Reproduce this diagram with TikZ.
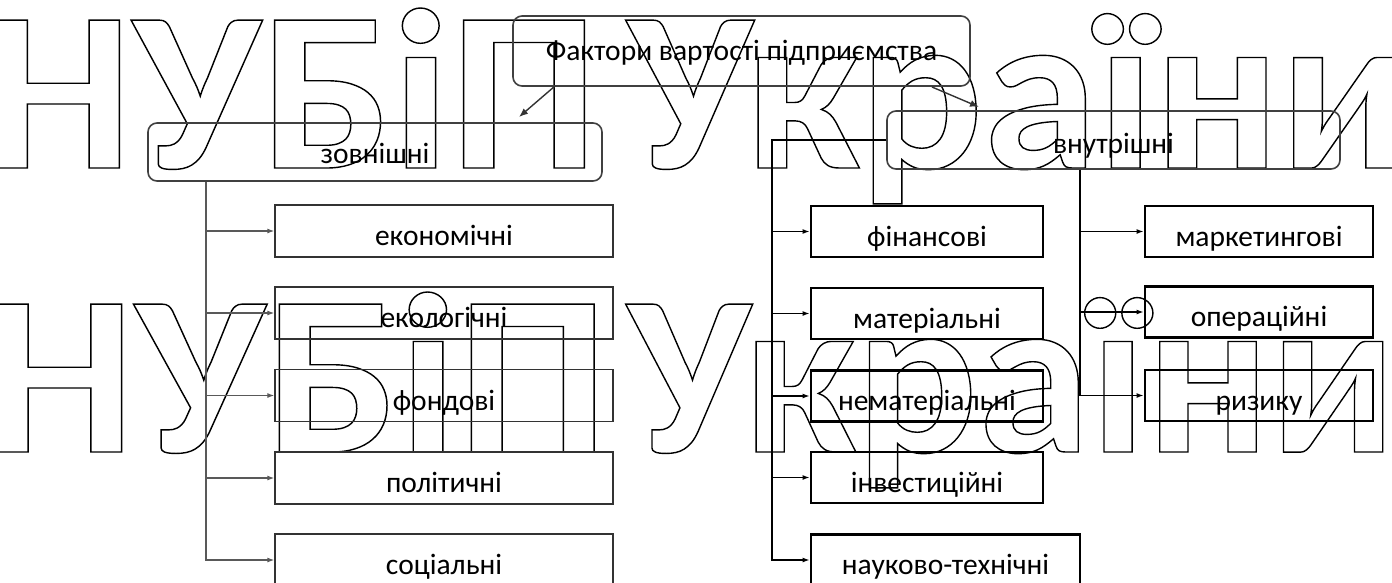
\documentclass[tikz,border=0pt]{standalone}
\usepackage{fontspec}
\usepackage{graphicx}
\setmainfont{Carlito}
\newfontfamily\wmfont{Carlito}
\usetikzlibrary{arrows.meta}
\newcommand\wmout[1]{\special{pdf:literal direct 1 Tr 1.4 w}#1\special{pdf:literal direct 0 Tr}}
\newcommand\wmset{\wmfont\bfseries\fontsize{228}{240}\selectfont}
\begin{document}
\begin{tikzpicture}[x=1pt,y=-1pt,
  wm/.style={anchor=base west, inner sep=0pt, outer sep=0pt},
  boxtext/.style={inner sep=0pt, font=\fontsize{29.5}{31}\selectfont, text height=29pt, text depth=0pt},
  lbox/.style={boxtext, draw=black!80, line width=1.3pt, minimum width=338pt, minimum height=52pt},
  rbox/.style={boxtext, draw=black, line width=2.8pt, minimum width=232pt, minimum height=51pt},
  gbox/.style={boxtext, draw=black!75, line width=1.6pt, rounded corners=9pt},
  lconn/.style={draw=black!65, line width=1.2pt, -{Latex[length=7pt,width=5pt]}},
  rconn/.style={draw=black, line width=1.8pt, -{Latex[length=7pt,width=5pt]}},
  tconn/.style={draw=black!80, line width=1.4pt, -{Latex[length=9pt,width=7pt]}}
]
\useasboundingbox (0,0) rectangle (1392,582);
\fill[white] (0,0) rectangle (1392,582);

% watermark
\node[wm] (wm1) at (-16,168) {\resizebox{614pt}{\height}{\wmset\wmout{НУБіП}}};
\node[wm] (wm2) at (627,168) {\resizebox{781pt}{\height}{\wmset\wmout{України}}};
\node[wm] (wm3) at (-16,452) {\resizebox{624pt}{\height}{\wmset\wmout{НУБіП}}};
\node[wm] (wm4) at (627,452) {\resizebox{769pt}{\height}{\wmset\wmout{України}}};

% main boxes
\node[gbox, minimum width=457pt, minimum height=70pt, text height=19pt] (top) at (741.5,51) {Фактори вартості підприємства};
\node[gbox, minimum width=454pt, minimum height=58pt, text height=23pt] (zov) at (375,152) {зовнішні};
\node[gbox, minimum width=453pt, minimum height=58pt, text height=27pt] (vnut) at (1113.5,140) {внутрішні};

% external factors
\node[lbox] (eco)  at (444,231)   {економічні};
\node[lbox] (ekol) at (444,313)   {екологічні};
\node[lbox] (fond) at (444,395.5) {фондові};
\node[lbox] (pol)  at (444,478)   {політичні};
\node[lbox] (soc)  at (444,560)   {соціальні};

% internal factors, column 1
\node[rbox] (fin)  at (927,231.5) {фінансові};
\node[rbox] (mat)  at (927,313.5) {матеріальні};
\node[rbox] (nem)  at (927,396)   {нематеріальні};
\node[rbox] (inv)  at (927,477.5) {інвестиційні};
\node[rbox, minimum width=269pt] (nauk) at (945.5,560) {науково-технічні};

% internal factors, column 2
\node[rbox, minimum width=228pt] (mark) at (1259,231.5) {маркетингові};
\node[rbox, minimum width=228pt] (oper) at (1259,312)   {операційні};
\node[rbox, minimum width=228pt] (riz)  at (1259,395.5) {ризику};

% bus coordinates
\coordinate (lb) at (206,0);
\coordinate (rb) at (772,0);
\coordinate (rc) at (1080,0);
\coordinate (t1) at (555,86);
\coordinate (t1e) at (519,117);
\coordinate (t2) at (932,87);
\coordinate (t2e) at (979,107);

% top arrows
\draw[tconn] (t1) -- (t1e);
\draw[tconn] (t2) -- (t2e);

% external connectors
\foreach \n in {eco,ekol,fond,pol,soc}
  \draw[lconn] (zov.south -| lb) |- (\n);

% internal connectors column 1
\foreach \n in {fin,mat,nem,inv,nauk}
  \draw[rconn] (vnut.west) -- (vnut.west -| rb) |- (\n);

% internal connectors column 2
\foreach \n in {mark,oper,riz}
  \draw[rconn] (vnut.south -| rc) |- (\n);
\end{tikzpicture}
\end{document}
